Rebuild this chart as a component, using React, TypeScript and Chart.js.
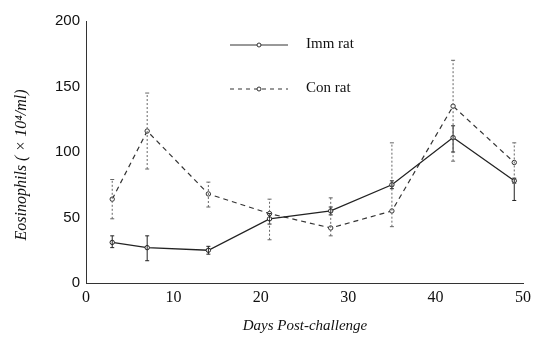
import React, { useEffect, useRef } from "react";
import { Chart, registerables } from "chart.js";
Chart.register(...registerables);

const days = [3, 7, 14, 21, 28, 35, 42, 49];
const immMean = [31, 27, 25, 49, 55, 75, 111, 78];
const immLow = [27, 17, 22, 45, 52, 72, 100, 63];
const immHigh = [36, 36, 28, 53, 58, 78, 120, 80];
const conMean = [64, 116, 68, 53, 42, 55, 135, 92];
const conLow = [49, 87, 58, 33, 36, 43, 93, 76];
const conHigh = [79, 145, 77, 64, 65, 107, 170, 107];
const xTicks = [0, 10, 20, 30, 40, 50];
const yTicks = [0, 50, 100, 150, 200];
const legendLabels = ["Imm rat", "Con rat"];
const yTitle = "Eosinophils ( × 10⁴/ml)";
const xTitle = "Days Post-challenge";

const errorBars = {
  id: "errorBars",
  afterDatasetsDraw(chart: any) {
    const ctx = chart.ctx;
    const xs = chart.scales.x;
    const ys = chart.scales.y;
    const sets = [
      { lo: immLow, hi: immHigh, color: "#222", dash: [] as number[] },
      { lo: conLow, hi: conHigh, color: "#666", dash: [2, 2] },
    ];
    ctx.save();
    sets.forEach((s) => {
      ctx.strokeStyle = s.color;
      ctx.lineWidth = 1;
      days.forEach((d, i) => {
        const x = xs.getPixelForValue(d);
        const y1 = ys.getPixelForValue(s.lo[i]);
        const y2 = ys.getPixelForValue(s.hi[i]);
        ctx.setLineDash(s.dash);
        ctx.beginPath();
        ctx.moveTo(x, y1);
        ctx.lineTo(x, y2);
        ctx.stroke();
        ctx.setLineDash([]);
        ctx.beginPath();
        ctx.moveTo(x - 2, y1);
        ctx.lineTo(x + 2, y1);
        ctx.moveTo(x - 2, y2);
        ctx.lineTo(x + 2, y2);
        ctx.stroke();
      });
    });
    ctx.restore();
  },
};

const customLegend = {
  id: "customLegend",
  afterDraw(chart: any) {
    const ctx = chart.ctx;
    const items = [
      { y: 45, dash: [] as number[], label: legendLabels[0] },
      { y: 89, dash: [4, 4], label: legendLabels[1] },
    ];
    ctx.save();
    items.forEach((it) => {
      ctx.strokeStyle = "#333";
      ctx.lineWidth = 1;
      ctx.setLineDash(it.dash);
      ctx.beginPath();
      ctx.moveTo(230, it.y);
      ctx.lineTo(288, it.y);
      ctx.stroke();
      ctx.setLineDash([]);
      ctx.beginPath();
      ctx.arc(259, it.y, 2, 0, Math.PI * 2);
      ctx.fillStyle = "#fff";
      ctx.fill();
      ctx.stroke();
      ctx.fillStyle = "#111";
      ctx.font = "15px 'Liberation Serif'";
      ctx.textBaseline = "middle";
      ctx.fillText(it.label, 306, it.y - 1);
    });
    // x-axis title
    ctx.textAlign = "center";
    ctx.textBaseline = "middle";
    ctx.font = "italic 15px 'Liberation Serif'";
    ctx.fillText(xTitle, 305, 326);
    // y-axis title
    ctx.translate(22, 165);
    ctx.rotate(-Math.PI / 2);
    ctx.font = "italic 16px 'Liberation Serif'";
    ctx.fillText(yTitle, 0, 0);
    ctx.restore();
  },
};

export default function App() {
  const ref = useRef<HTMLCanvasElement>(null);
  useEffect(() => {
    const chart = new Chart(ref.current!, {
      type: "line",
      data: {
        datasets: [
          {
            label: legendLabels[0],
            data: days.map((d, i) => ({ x: d, y: immMean[i] })),
            borderColor: "#222",
            borderWidth: 1.3,
            pointRadius: 2.2,
            pointBackgroundColor: "#fff",
            pointBorderColor: "#222",
            pointBorderWidth: 1,
            fill: false,
            tension: 0,
          },
          {
            label: legendLabels[1],
            data: days.map((d, i) => ({ x: d, y: conMean[i] })),
            borderColor: "#333",
            borderWidth: 1.2,
            borderDash: [5, 4],
            pointRadius: 2.2,
            pointBackgroundColor: "#fff",
            pointBorderColor: "#333",
            pointBorderWidth: 1,
            fill: false,
            tension: 0,
          },
        ],
      },
      options: {
        animation: false,
        responsive: false,
        layout: { padding: { top: 21, right: 9, left: 0, bottom: 0 } },
        plugins: { legend: { display: false }, tooltip: { enabled: false } },
        scales: {
          x: {
            type: "linear",
            min: 0,
            max: 50,
            afterBuildTicks: (s: any) => {
              s.ticks = xTicks.map((v) => ({ value: v }));
            },
            afterFit: (s: any) => {
              s.height = 64;
            },
            grid: { display: false, drawTicks: true, tickLength: 3 },
            border: { color: "#333", width: 1 },
            ticks: {
              color: "#111",
              font: { family: "'Liberation Serif'", size: 16 },
              padding: 2,
              maxRotation: 0,
            },
            title: { display: false },
          },
          y: {
            type: "linear",
            min: 0,
            max: 200,
            afterBuildTicks: (s: any) => {
              s.ticks = yTicks.map((v) => ({ value: v }));
            },
            afterFit: (s: any) => {
              s.width = 86;
            },
            grid: { display: false, drawTicks: true, tickLength: 3 },
            border: { color: "#333", width: 1 },
            ticks: {
              color: "#111",
              font: { family: "'Liberation Sans'", size: 15 },
              padding: 3,
            },
            title: { display: false },
          },
        },
      },
      plugins: [errorBars, customLegend],
    } as any);
    return () => chart.destroy();
  }, []);
  return (
    <div style={{ position: "fixed", left: 0, top: 0, width: 533, height: 347, background: "#fff" }}>
      <canvas ref={ref} width={533} height={347} style={{ width: 533, height: 347 }} />
    </div>
  );
}
